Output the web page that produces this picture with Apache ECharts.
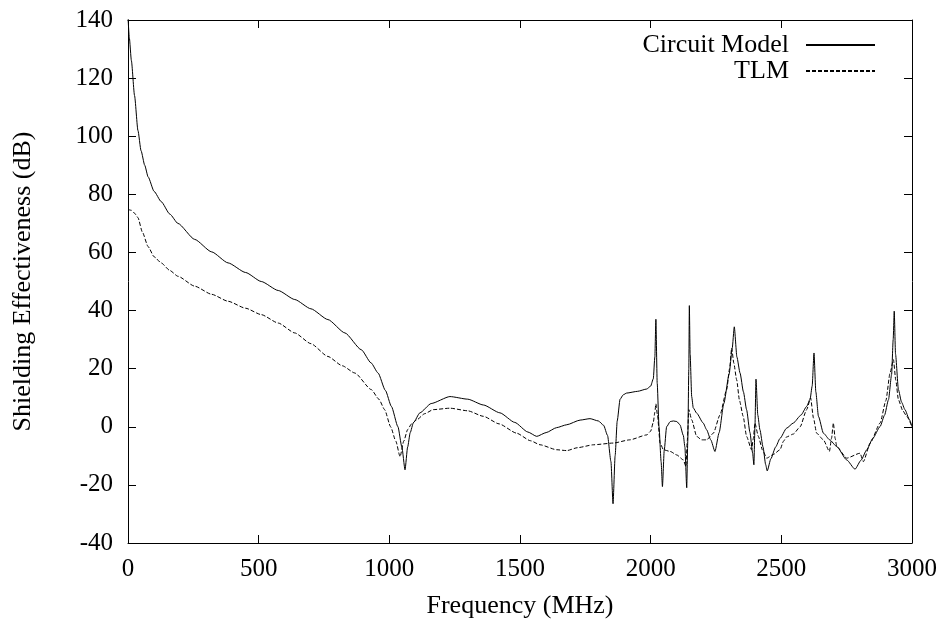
<!DOCTYPE html>
<html>
<head>
<meta charset="utf-8">
<script src="https://cdn.jsdelivr.net/npm/echarts@6/dist/echarts.min.js"></script>
<style>html,body{margin:0;padding:0;background:#fff}#c{width:943px;height:625px}</style>
</head>
<body>
<div id="c"></div>
<script>
const seriesNames = ['Circuit Model', 'TLM'];
const xTicks = [0, 500, 1000, 1500, 2000, 2500, 3000];
const yTicks = [-40, -20, 0, 20, 40, 60, 80, 100, 120, 140];

const circuitFreq = [0,5,13,25,38,50,64,77,100,127,160,191,255,320,383,450,510,575,638,700,765,830,893,930,957,985,1008,1033,1048,1060,1070,1080,1092,1117,1160,1232,1300,1360,1423,1480,1530,1564,1600,1640,1679,1730,1768,1800,1820,1835,1848,1856,1864,1872,1883,1895,1908,1950,1985,2000,2010,2016,2020,2025,2032,2040,2045,2052,2061,2075,2087,2100,2112,2125,2131,2138,2142,2146,2148,2151,2157,2163,2176,2201,2214,2230,2246,2262,2280,2300,2312,2320,2330,2342,2355,2367,2380,2390,2395,2399,2403,2410,2418,2430,2440,2446,2460,2478,2495,2520,2546,2575,2597,2610,2618,2625,2632,2642,2661,2685,2712,2750,2782,2805,2827,2850,2878,2895,2910,2922,2928,2932,2937,2948,2960,2973,2990,3000];
const circuitSE = [141,134,126,114,102,95,90,86,81,77.5,73.2,70,64.5,60.2,56.4,53.1,50,46.9,43.8,40.6,36.9,32.3,26.5,22,18.5,12.5,7,0,-7,-14.8,-7,-2,1.4,4.8,8,10.4,9.5,7.5,4.8,1.5,-1.8,-3.3,-2,-0.3,0.7,2.3,2.8,2,0.5,-3,-12,-26.5,-10,2,9.5,11,11.6,12.2,13,14,16.5,24,37,15,0,-12,-20.6,-8,0,1.8,2,1.8,0.7,-3,-7,-21,-5,20,41.7,25,10.4,6.5,4.7,1.3,-1,-4.5,-8.5,-2,8,18,27,34.4,24,18.5,12,5.9,-2,-9,-13.1,0,16.4,4,-1,-7,-13,-15.2,-11,-7,-4,-0.5,1.3,4,7,9.5,14,25.4,12,3.6,-2.2,-4.5,-6.8,-11.4,-14.6,-11.5,-7.9,-4,0.1,4,9.3,18,30,39.8,25,12.8,8.5,5.9,2.5,0];

const tlmFreq = [0,13,25,38,55,77,100,127,160,191,255,320,383,450,510,575,638,700,765,820,868,931,960,982,1005,1025,1041,1055,1070,1085,1105,1135,1168,1232,1300,1360,1420,1487,1540,1577,1640,1679,1720,1781,1857,1920,1985,2000,2010,2016,2020,2026,2036,2049,2075,2100,2125,2135,2140,2146,2157,2176,2195,2214,2240,2265,2291,2302,2310,2318,2329,2340,2354,2367,2386,2393,2399,2412,2428,2444,2470,2495,2508,2520,2546,2572,2597,2612,2623,2635,2661,2684,2692,2699,2706,2712,2750,2801,2814,2840,2878,2900,2916,2929,2938,2948,2965,2980,3000];
const tlmSE = [74.8,74.5,73.5,72,67,62,58.5,56.4,53.8,51.8,48.4,45.6,43.2,40.8,38.6,35.7,32.3,28.6,24.2,21,18.5,12.8,9.5,5.9,0,-5,-10.3,-5,-1,1,2.4,4.5,5.9,6.4,5.5,3.6,1,-2.2,-4.8,-6.2,-7.9,-8.2,-7.2,-6.2,-5.6,-4.5,-2.8,-1.5,1.5,5,7.9,4,-5.6,-7.9,-8.5,-9.7,-11.4,-13.7,-5,5.9,2.4,-3.3,-4.5,-4.5,-2.2,4,12.8,20,27.1,22,16.2,9,3.6,-3.3,-7.9,-4,1.3,-3.3,-8,-10.8,-9.5,-7.9,-5,-3.5,-2.5,0,5.9,9.9,3,-2.2,-4.5,-8.5,-4,1.3,-4,-6.8,-10.8,-9.1,-12,-5.6,1.3,9,18.5,23.1,16,9.3,5.5,3.6,0];

const zip = (xs, ys) => xs.map((x, i) => [x, ys[i]]);
const FONT = 'Liberation Serif';
const tickTxt = { fontFamily: FONT, fontSize: 25, color: '#000' };
const titleTxt = { fontFamily: FONT, fontSize: 26, color: '#000' };

const axisLine = { show: true, onZero: false, lineStyle: { color: '#000', width: 1 } };
const axisTick = { inside: true, length: 8, lineStyle: { color: '#000' } };
const legendBase = { right: 62, orient: 'vertical', align: 'right', itemWidth: 69, itemHeight: 14,
  textStyle: Object.assign({ padding: [0, 12, 0, 0] }, titleTxt), itemStyle: { opacity: 0 } };

const chart = echarts.init(document.getElementById('c'));
chart.setOption({
  animation: false,
  backgroundColor: '#fff',
  grid: { left: 128, right: 31, top: 20, bottom: 82 },
  legend: [
    Object.assign({ data: [seriesNames[0]], top: 27 }, legendBase),
    Object.assign({ data: [seriesNames[1]], top: 53 }, legendBase)
  ],
  xAxis: [
    { type: 'value', min: 0, max: 3000, interval: 500, position: 'bottom',
      name: 'Frequency (MHz)', nameLocation: 'middle', nameGap: 50, nameTextStyle: titleTxt,
      axisLine, axisTick,
      axisLabel: Object.assign({ margin: 14, formatter: v => String(v) }, tickTxt),
      splitLine: { show: false } },
    { type: 'value', min: 0, max: 3000, interval: 500, position: 'top',
      axisLine, axisTick, axisLabel: { show: false }, splitLine: { show: false } }
  ],
  yAxis: [
    { type: 'value', min: -40, max: 140, interval: 20, position: 'left',
      name: 'Shielding Effectiveness (dB)', nameLocation: 'middle', nameGap: 92, nameRotate: 90,
      nameTextStyle: titleTxt, axisLine, axisTick,
      axisLabel: Object.assign({ margin: 15, formatter: v => String(v) }, tickTxt),
      splitLine: { show: false } },
    { type: 'value', min: -40, max: 140, interval: 20, position: 'right',
      axisLine, axisTick, axisLabel: { show: false }, splitLine: { show: false } }
  ],
  series: [
    { name: seriesNames[0], type: 'line', data: zip(circuitFreq, circuitSE), showSymbol: false,
      symbol: 'none', smooth: 0.2, smoothMonotone: 'x', clip: true,
      lineStyle: { color: '#000', width: 1, type: 'solid' }, itemStyle: { color: '#000' } },
    { name: seriesNames[1], type: 'line', data: zip(tlmFreq, tlmSE), showSymbol: false,
      symbol: 'none', smooth: 0.2, smoothMonotone: 'x', clip: true,
      lineStyle: { color: '#000', width: 1, type: [4, 2] }, itemStyle: { color: '#000' } }
  ]
});
</script>
</body>
</html>
